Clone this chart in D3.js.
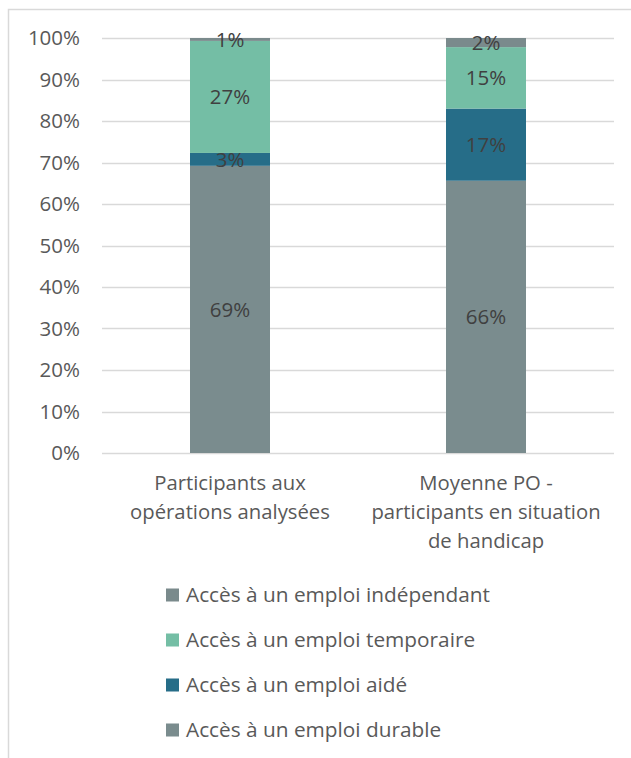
<!DOCTYPE html>
<html>
<head>
<meta charset="utf-8">
<script src="https://cdn.jsdelivr.net/npm/d3@7"></script>
<style>
  body { margin: 0; background: #fff; }
  svg text { font-family: "Open Sans", sans-serif; }
</style>
</head>
<body>
<svg id="svg1" width="631" height="758"></svg>
<script>
var categories = [
  ["Participants aux", "opérations analysées"],
  ["Moyenne PO -", "participants en situation", "de handicap"]
];
var seriesNames = [
  "Accès à un emploi durable",
  "Accès à un emploi aidé",
  "Accès à un emploi temporaire",
  "Accès à un emploi indépendant"
];
var seriesColors = ["#7a8c8e", "#266d88", "#74bea5", "#7a8a8c"];
// share of participants, one array per series (bar 1, bar 2)
var durable = [0.692, 0.656];
var aide = [0.031, 0.174];
var temporaire = [0.270, 0.148];
var independant = [0.007, 0.022];
var yTicks = [0, 0.1, 0.2, 0.3, 0.4, 0.5, 0.6, 0.7, 0.8, 0.9, 1];

var values = [durable, aide, temporaire, independant];

var width = 631, height = 758;
var plotLeft = 102, plotRight = 614, plotTop = 38, plotBottom = 453;

var svg = d3.select('svg');

// chart frame (only left and top visible in the reference)
svg.append("rect")
   .attr("x", 8.5).attr("y", 9.5)
   .attr("width", 640).attr("height", 780)
   .attr("fill", "none")
   .attr("stroke", "#d9d9d9")
   .attr("stroke-width", 1.5);

var x = d3.scaleBand()
          .domain(d3.range(categories.length))
          .range([plotLeft, plotRight]);

var y = d3.scaleLinear()
          .domain([0, 1])
          .range([plotBottom, plotTop]);

var barWidth = x.bandwidth() * 0.3125;

// gridlines
svg.append("g")
   .selectAll("line")
   .data(yTicks)
   .enter()
   .append("line")
   .attr("x1", plotLeft).attr("x2", plotRight)
   .attr("y1", function(d) { return Math.round(y(d)) + 0.5; })
   .attr("y2", function(d) { return Math.round(y(d)) + 0.5; })
   .attr("stroke", "#d9d9d9")
   .attr("stroke-width", 1.5);

// y axis labels
var yAxis = d3.axisLeft(y)
              .tickValues(yTicks)
              .tickFormat(d3.format(".0%"))
              .tickSize(0)
              .tickPadding(0);

var ya = svg.append("g")
   .attr("transform", "translate(80,0)")
   .call(yAxis);
ya.select(".domain").remove();
ya.selectAll("text")
  .attr("font-size", 20.5)
  .attr("fill", "#595959")
  .attr("font-family", "'Open Sans', sans-serif");

// stacked segments
var stackData = categories.map(function(c, i) {
  var row = { i: i };
  seriesNames.forEach(function(s, k) { row[k] = values[k][i]; });
  return row;
});
var stack = d3.stack().keys(d3.range(seriesNames.length));
var layers = stack(stackData);

var layerG = svg.append("g")
  .selectAll("g")
  .data(layers)
  .enter()
  .append("g")
  .attr("fill", function(d) { return seriesColors[d.key]; });

layerG.selectAll("rect")
  .data(function(d) { return d; })
  .enter()
  .append("rect")
  .attr("x", function(d) { return x(d.data.i) + (x.bandwidth() - barWidth) / 2; })
  .attr("y", function(d) { return y(d[1]); })
  .attr("width", barWidth)
  .attr("height", function(d) { return y(d[0]) - y(d[1]); });

// data labels
layerG.selectAll("text")
  .data(function(d) { return d; })
  .enter()
  .append("text")
  .attr("x", function(d) { return x(d.data.i) + x.bandwidth() / 2; })
  .attr("y", function(d) { return (y(d[0]) + y(d[1])) / 2; })
  .attr("dy", "0.35em")
  .attr("text-anchor", "middle")
  .attr("font-size", 20.5)
  .attr("fill", "#404040")
  .text(function(d) { return Math.round((d[1] - d[0]) * 100) + "%"; });

// category labels
var catG = svg.append("g")
  .selectAll("text")
  .data(categories)
  .enter()
  .append("text")
  .attr("text-anchor", "middle")
  .attr("font-size", 20.3)
  .attr("fill", "#595959")
  .attr("transform", function(d, i) { return "translate(" + (x(i) + x.bandwidth() / 2) + ",490)"; });

catG.selectAll("tspan")
  .data(function(d) { return d; })
  .enter()
  .append("tspan")
  .attr("x", 0)
  .attr("y", function(d, j) { return j * 29; })
  .text(function(d) { return d; });

// legend, reversed order like the reference
var legendOrder = [3, 2, 1, 0];
var legend = svg.append("g")
  .selectAll("g")
  .data(legendOrder)
  .enter()
  .append("g")
  .attr("transform", function(d, j) { return "translate(166," + (595 + j * 45) + ")"; });

legend.append("rect")
  .attr("x", 0).attr("y", -6.5)
  .attr("width", 13).attr("height", 13)
  .attr("fill", function(d) { return seriesColors[d]; });

legend.append("text")
  .attr("x", 20)
  .attr("dy", "0.35em")
  .attr("font-size", 20.8)
  .attr("fill", "#595959")
  .text(function(d) { return seriesNames[d]; });
</script>
</body>
</html>
